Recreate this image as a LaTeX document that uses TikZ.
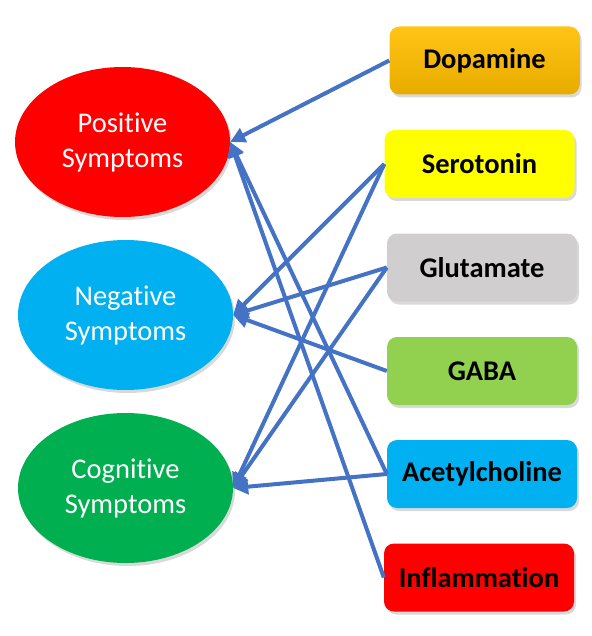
\documentclass[tikz,border=0pt]{standalone}
\usepackage{fontspec}
\setmainfont{Carlito}[Ligatures=NoCommon]
\usepackage{xcolor}
\usepackage{tikz}
\usetikzlibrary{
    positioning,
    arrows.meta,
    shapes.geometric,
    shadows
}
\definecolor{arrowBlue}{RGB}{68, 114, 196}
\definecolor{posRed}{RGB}{255, 0, 0}
\definecolor{negBlue}{RGB}{0, 176, 240}
\definecolor{cogGreen}{RGB}{0, 176, 80}
\definecolor{dopTop}{RGB}{255, 196, 20}
\definecolor{dopBottom}{RGB}{232, 172, 0}
\definecolor{serYellow}{RGB}{255, 255, 0}
\definecolor{gluGray}{RGB}{208, 206, 206}
\definecolor{gabaGreen}{RGB}{146, 208, 80}

\begin{document}
\begin{tikzpicture}[x=1pt, y=-1pt, >={Triangle[length=15pt, width=15pt]},
    symptom/.style={ellipse, minimum width=215pt, minimum height=150pt, inner sep=0pt,
        align=center, text=white, font=\fontsize{28.5}{35}\selectfont,
        drop shadow={opacity=0.3, shadow xshift=2pt, shadow yshift=-3pt}},
    agent/.style={rectangle, rounded corners=10pt, minimum width=190pt, minimum height=68pt,
        inner sep=0pt, font=\fontsize{28.5}{34}\selectfont\bfseries,
        drop shadow={opacity=0.3, shadow xshift=2pt, shadow yshift=-3pt}},
    link/.style={->, arrowBlue, line width=4pt}]
    \useasboundingbox (0,0) rectangle (591,636);

    % 症状
    \node[symptom, fill=posRed] (pos) at (122.5,142) {Positive\\Symptoms};
    \node[symptom, fill=negBlue] (neg) at (125.5,315) {Negative\\Symptoms};
    \node[symptom, fill=cogGreen] (cog) at (125.5,488) {Cognitive\\Symptoms};

    % 要因
    \node[agent, top color=dopTop, bottom color=dopBottom] (dop) at (484.5,60.5) {Dopamine};
    \node[agent, fill=serYellow] (ser) at (479.5,164) {Serotonin};
    \node[agent, fill=gluGray] (glu) at (482,267.5) {Glutamate};
    \node[agent, fill=gabaGreen] (gaba) at (482,371) {GABA};
    \node[agent, fill=negBlue] (ach) at (482,474) {Acetylcholine};
    \node[agent, fill=posRed] (infl) at (479,577.5) {Inflammation};

    % 矢印
    \draw[link] (dop.west) -- (pos.east);
    \draw[link] (ach.west) -- (pos.east);
    \draw[link] (infl.west) -- (pos.east);
    \draw[link] (ser.west) -- (neg.east);
    \draw[link] (glu.west) -- (neg.east);
    \draw[link] (gaba.west) -- (neg.east);
    \draw[link] (ser.west) -- (cog.east);
    \draw[link] (glu.west) -- (cog.east);
    \draw[link] (ach.west) -- (cog.east);
\end{tikzpicture}
\end{document}
